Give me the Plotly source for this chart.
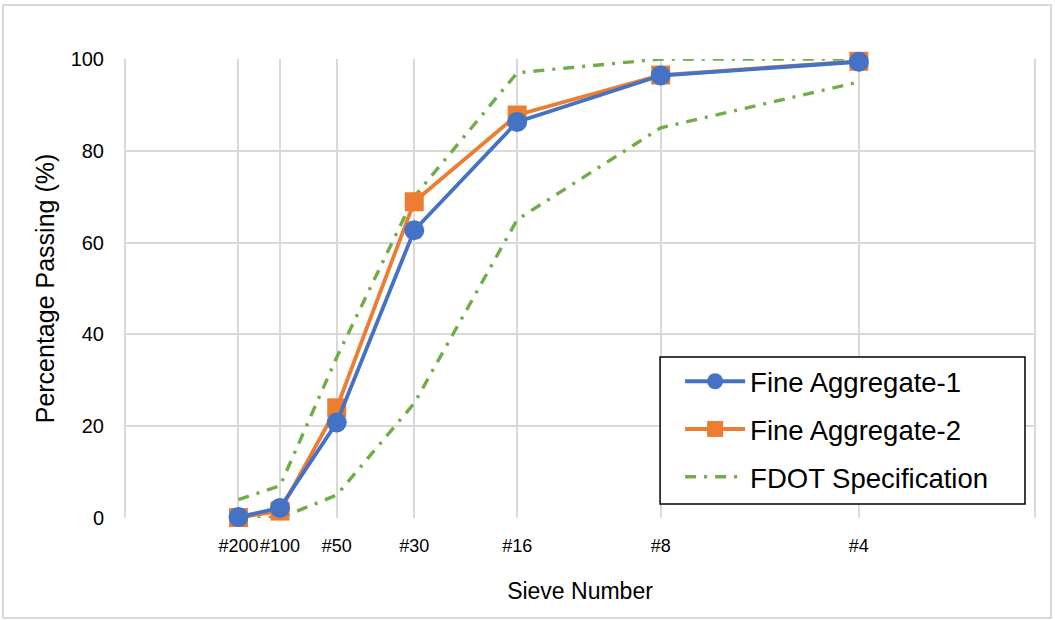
import plotly.graph_objects as go

# Sieve data
sieve_labels = ["#200", "#100", "#50", "#30", "#16", "#8", "#4"]
sieve_mm = [0.075, 0.15, 0.3, 0.6, 1.18, 2.36, 4.75]
fa1 = [0.2, 2.2, 20.8, 62.7, 86.3, 96.4, 99.4]
fa2 = [0.1, 1.5, 24.0, 68.9, 87.8, 96.5, 99.5]
fdot_upper = [4, 7, 35, 70, 97, 100, 100]
fdot_lower = [0, 0, 5, 25, 65, 85, 95]

POW = 0.45
xpos = [s ** POW for s in sieve_mm]

BLUE = "#4472C4"
ORANGE = "#ED7D31"
GREEN = "#70AD47"
GRID = "#D9D9D9"
dash = "11px,8px,3px,8px"

fig = go.Figure()
fig.add_trace(go.Scatter(x=xpos, y=fdot_upper, mode="lines", name="FDOT Specification",
                         line=dict(color=GREEN, width=3.4, dash=dash), cliponaxis=False,
                         legendgroup="fdot", legendrank=3))
fig.add_trace(go.Scatter(x=xpos, y=fdot_lower, mode="lines", name="FDOT Specification",
                         line=dict(color=GREEN, width=3.4, dash=dash), cliponaxis=False,
                         legendgroup="fdot", showlegend=False, legendrank=3))
fig.add_trace(go.Scatter(x=xpos, y=fa2, mode="lines+markers", name="Fine Aggregate-2",
                         line=dict(color=ORANGE, width=3.8), cliponaxis=False,
                         marker=dict(symbol="square", size=19, color=ORANGE),
                         legendgroup="fa2", legendrank=2))
fig.add_trace(go.Scatter(x=xpos, y=fa1, mode="lines+markers", name="Fine Aggregate-1",
                         line=dict(color=BLUE, width=3.8), cliponaxis=False,
                         marker=dict(symbol="circle", size=20, color=BLUE),
                         legendgroup="fa1", legendrank=1))

# outer chart border
fig.add_shape(type="rect", xref="paper", yref="paper",
              x0=-0.134, x1=1.0176, y0=-0.2179, y1=1.1176,
              line=dict(color=GRID, width=2), layer="below")
# left/right border of plot area
fig.add_shape(type="line", xref="paper", yref="paper", x0=1, x1=1, y0=0, y1=1,
              line=dict(color=GRID, width=2), layer="below")
fig.add_shape(type="line", xref="paper", yref="paper", x0=0, x1=0, y0=0, y1=1,
              line=dict(color=GRID, width=2), layer="below")
# legend box
fig.add_shape(type="rect", xref="paper", yref="paper",
              x0=0.588, x1=0.989, y0=0.0305, y1=0.3508,
              line=dict(color="black", width=1.5), fillcolor="white", layer="above")

fig.update_layout(
    width=1055, height=620,
    margin=dict(l=125, r=20, t=59, b=102),
    paper_bgcolor="white", plot_bgcolor="white",
    font=dict(family="Liberation Sans, Arial, sans-serif", color="black"),
    xaxis=dict(range=[0, 2.5], tickvals=xpos, ticktext=sieve_labels,
               showgrid=True, gridcolor=GRID, gridwidth=2, zeroline=False,
               showline=False, ticks="", tickangle=0, automargin=False,
               ticklabelstandoff=15,
               tickfont=dict(size=18),
               title=dict(text="Sieve Number", font=dict(size=23), standoff=27)),
    yaxis=dict(range=[0, 100], tickvals=[0, 20, 40, 60, 80, 100],
               showgrid=True, gridcolor=GRID, gridwidth=2, zeroline=False,
               ticks="", tickfont=dict(size=20), ticklabelstandoff=20, automargin=False,
               title=dict(text="Percentage Passing (%)", font=dict(size=25), standoff=8)),
    legend=dict(x=0.610, y=0.351, xanchor="left", yanchor="top",
                borderwidth=0, bgcolor="rgba(0,0,0,0)", itemwidth=60,
                font=dict(size=27.5), traceorder="grouped", tracegroupgap=9),
    showlegend=True,
)

fig.write_html("out.html", config={"displayModeBar": False},
               post_script="document.body.style.margin='0';")
